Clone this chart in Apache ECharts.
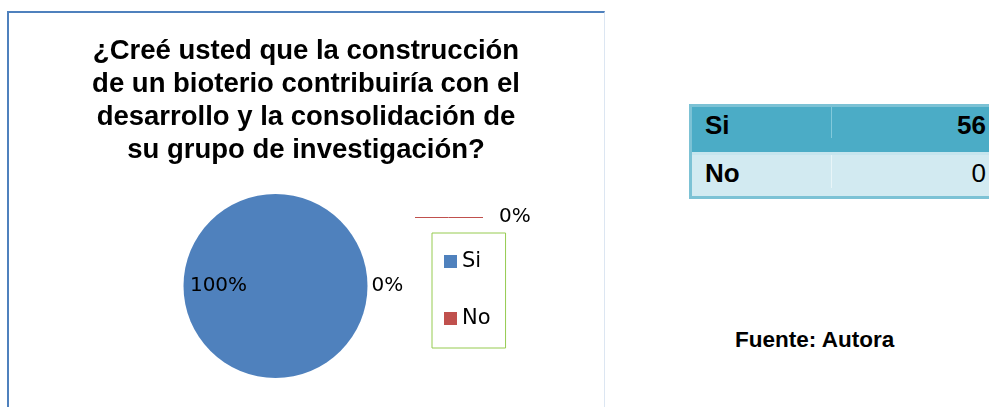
<!DOCTYPE html>
<html>
<head>
<meta charset="utf-8">
<script src="https://cdn.jsdelivr.net/npm/echarts@6/dist/echarts.min.js"></script>
<style>
  html, body { margin: 0; padding: 0; background: #fff; width: 989px; height: 407px; overflow: hidden; }
  #frame {
    position: absolute; left: 7px; top: 11px; width: 595px; height: 420px;
    border-top: 2px solid #4F81BD; border-left: 2px solid #4F81BD; border-right: 1px solid #DCE6F2;
  }
  #chart { position: absolute; left: 9px; top: 13px; width: 594px; height: 394px; }
  #tabla {
    position: absolute; left: 689px; top: 104px; width: 302px; height: 95px;
    background: #7CC2D5;
    font-family: "Liberation Sans", Arial, sans-serif; font-size: 26px; line-height: 30px; color: #000;
  }
  .fila { position: absolute; left: 3px; right: 0; display: flex; }
  .fila.r0 { top: 3px; height: 45px; background: #4BACC6; }
  .fila.r1 { top: 48px; height: 41px; background: #D2EAF1; border-top: 3px solid #C6E5EE; }
  .cat { width: 140px; box-sizing: border-box; padding: 3px 0 0 13px; font-weight: bold; position: relative; }
  .num { flex: 1; text-align: right; padding: 3px 5px 0 0; }
  .r0 .num { font-weight: bold; }
  .r0 .cat::after { content: ""; position: absolute; right: 0; top: 0; height: 31px; width: 1px; background: #82C9DB; }
  .r1 .cat::after { content: ""; position: absolute; right: 0; top: 0; height: 33px; width: 1px; background: #E8F5F8; }
  #fuente {
    position: absolute; left: 735px; top: 327px;
    font-family: "Liberation Sans", Arial, sans-serif; font-size: 22.5px; font-weight: bold; color: #000;
  }
</style>
</head>
<body>
<div id="frame"></div>
<div id="chart"></div>
<div id="tabla"></div>
<div id="fuente"></div>
<script>
// datos de la encuesta
const categorias = ["Si", "No"];
const valores = [56, 0];
// tercera etiqueta "0%" que aparece suelta en el original (sin leyenda)
const extraNombre = "";
const extraValor = 0;

const tituloLineas = [
  "¿Creé usted que la construcción",
  "de un bioterio contribuiría con el",
  "desarrollo y la consolidación de",
  "su grupo de investigación?"
];
const fuente = "Fuente: Autora";

const colores = ["#4F81BD", "#C0504D", "#C0504D"];
const centro = [266.5, 273];
const radio = 92;

// tabla de la derecha
const tabla = document.getElementById("tabla");
categorias.forEach((c, i) => {
  const fila = document.createElement("div");
  fila.className = "fila r" + i;
  const cat = document.createElement("div");
  cat.className = "cat";
  cat.textContent = c;
  const num = document.createElement("div");
  num.className = "num";
  num.textContent = valores[i];
  fila.appendChild(cat);
  fila.appendChild(num);
  tabla.appendChild(fila);
});
document.getElementById("fuente").textContent = fuente;

const chart = echarts.init(document.getElementById("chart"), null, { renderer: "canvas" });

const datos = categorias.map((c, i) => ({ name: c, value: valores[i] }));
datos.push({ name: extraNombre, value: extraValor });

// estilos por porción
datos[0].label = { position: "inside" };
datos[1].label = { position: "outside" };
datos[1].labelLine = { show: false, length: 0, length2: 0 };
datos[2].label = { position: "outside" };
datos[2].labelLine = { show: true, length: 0, length2: 0, lineStyle: { color: "#C0504D", width: 1 } };

const option = {
  animation: false,
  color: colores,
  title: {
    text: tituloLineas.join("\n"),
    left: "center",
    top: 22,
    padding: 0,
    textStyle: {
      fontFamily: "Liberation Sans, Arial, sans-serif",
      fontSize: 27.5,
      fontWeight: "bold",
      color: "#000",
      lineHeight: 33
    }
  },
  legend: {
    data: categorias,
    orient: "vertical",
    left: 423,
    top: 220,
    padding: [18, 15, 19, 12],
    itemGap: 36,
    itemWidth: 13,
    itemHeight: 13,
    icon: "rect",
    borderColor: "#96CB50",
    borderWidth: 1,
    textStyle: {
      fontFamily: "DejaVu Sans, sans-serif",
      fontSize: 21,
      lineHeight: 20,
      color: "#000"
    }
  },
  series: [
    {
      type: "pie",
      center: centro,
      radius: radio,
      startAngle: 0,
      clockwise: true,
      avoidLabelOverlap: false,
      silent: true,
      minShowLabelAngle: 0,
      label: {
        show: true,
        formatter: p => Math.round(p.percent) + "%",
        fontFamily: "DejaVu Sans, sans-serif",
        fontSize: 20,
        color: "#000",
        distanceToLabelLine: 4
      },
      labelLayout: function (params) {
        if (params.dataIndex === 0) {
          return { dx: -8 };
        }
        if (params.dataIndex === 2) {
          const y = centro[1] - 69;
          return {
            x: centro[0] + 223.5,
            y: y,
            align: "left",
            verticalAlign: "middle",
            labelLinePoints: [
              [centro[0] + 139.5, y + 0.5],
              [centro[0] + 173, y + 0.5],
              [centro[0] + 207.5, y + 0.5]
            ]
          };
        }
      },
      data: datos
    }
  ]
};

chart.setOption(option);
</script>
</body>
</html>
